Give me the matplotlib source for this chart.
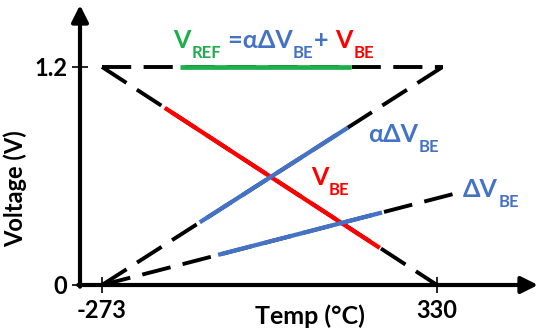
import matplotlib.pyplot as plt

# colours
GREEN = "#1daf4b"
BLUE = "#4472c4"
RED = "#ff0000"

# axis ticks
x_ticks = [-273, 330]
x_tick_labels = ["-273", "330"]
y_ticks = [0, 1.2]
y_tick_labels = ["0", "1.2"]

# full (dashed) lines: endpoints in data units
vref_x = [-273, 340]
vref_y = [1.2, 1.2]
vbe_x = [-273, 330]
vbe_y = [1.2, 0.0]
a_dvbe_x = [-273, 340]
a_dvbe_y = [0.0, 1.2]
dvbe_x = [-273, 366]
dvbe_y = [0.0, 0.506]

# solid (coloured) parts of each line
vref_solid_x = [-133, 175]
vref_solid_y = [1.2, 1.2]
vbe_solid_x = [-160, 227]
vbe_solid_y = [0.975, 0.204]
a_dvbe_solid_x = [-97, 170]
a_dvbe_solid_y = [0.345, 0.867]
dvbe_solid_x = [-64, 231]
dvbe_solid_y = [0.166, 0.399]

FONT = ["Lato", "DejaVu Sans"]
BIG = 18
SUB = 12


def rich_text(ax, x, y, parts):
    """
    Draw a run of (text, colour, is_subscript) pieces on one baseline.
    """
    prev = None
    for text, color, sub in parts:
        size = SUB if sub else BIG
        dy = -7 if sub else 0
        if prev is None:
            prev = ax.annotate(text, xy=(x, y), xytext=(0, dy),
                               textcoords="offset points", color=color,
                               fontsize=size, fontweight="bold",
                               family=FONT, va="baseline", ha="left")
        else:
            prev = ax.annotate(text, xy=(1, y), xycoords=(prev, "data"),
                               xytext=(0.5, dy), textcoords="offset points",
                               color=color, fontsize=size, fontweight="bold",
                               family=FONT, va="baseline", ha="left")
    return prev


fig = plt.figure(figsize=(5.38, 3.35), dpi=100)
ax = fig.add_axes([80 / 538, 50 / 335, 458 / 538, 280 / 335])
ax.set_xlim(-312.6, 511.8)
ax.set_ylim(0, 1.541)

for side in ["top", "right", "left", "bottom"]:
    ax.spines[side].set_visible(False)

# axis arrows
arrow = dict(arrowstyle="-|>", lw=3, color="k", mutation_scale=25,
             shrinkA=0, shrinkB=0)
ax.annotate("", xy=(1, 0), xytext=(-0.004, 0), xycoords="axes fraction",
            arrowprops=arrow)
ax.annotate("", xy=(0, 1), xytext=(0, -0.006), xycoords="axes fraction",
            arrowprops=arrow)

dash = (0, (7.5, 3.2))
lw = 2.8
ax.plot(vref_x, vref_y, color="k", lw=lw, ls=dash)
ax.plot(vbe_x, vbe_y, color="k", lw=lw, ls=dash)
ax.plot(a_dvbe_x, a_dvbe_y, color="k", lw=lw, ls=dash)
ax.plot(dvbe_x, dvbe_y, color="k", lw=lw, ls=dash)

ax.plot(vref_solid_x, vref_solid_y, color=GREEN, lw=lw + 0.6,
        solid_capstyle="butt")
ax.plot(vbe_solid_x, vbe_solid_y, color=RED, lw=lw + 0.3,
        solid_capstyle="butt")
ax.plot(a_dvbe_solid_x, a_dvbe_solid_y, color=BLUE, lw=lw + 0.3,
        solid_capstyle="butt")
ax.plot(dvbe_solid_x, dvbe_solid_y, color=BLUE, lw=lw + 0.3,
        solid_capstyle="butt")

ax.set_xticks(x_ticks)
ax.set_xticklabels(x_tick_labels)
ax.set_yticks(y_ticks)
ax.set_yticklabels(y_tick_labels)
ax.tick_params(direction="inout", length=12, width=1.2, labelsize=17)
ax.tick_params(axis="x", pad=4)
ax.tick_params(axis="y", pad=3)
for lab in ax.get_xticklabels() + ax.get_yticklabels():
    lab.set_fontweight("bold")
    lab.set_family(FONT)

ax.set_xlabel("Temp (°C)", fontsize=18, fontweight="bold", family=FONT)
ax.set_ylabel("Voltage (V)", fontsize=17, fontweight="bold", family=FONT)
ax.xaxis.set_label_coords(0.502, -0.071)
ax.yaxis.set_label_coords(-0.116, 0.343)

# equation and line labels
rich_text(ax, -145, 1.304, [("V", GREEN, False), ("REF", GREEN, True),
                            (" =αΔV", BLUE, False), ("BE", BLUE, True),
                            ("+ ", BLUE, False), ("V", RED, False),
                            ("BE", RED, True)])
rich_text(ax, 206, 0.787, [("αΔV", BLUE, False), ("BE", BLUE, True)])
rich_text(ax, 103, 0.550, [("V", RED, False), ("BE", RED, True)])
rich_text(ax, 377, 0.484, [("ΔV", BLUE, False), ("BE", BLUE, True)])

fig.savefig("out.png", dpi=100)
